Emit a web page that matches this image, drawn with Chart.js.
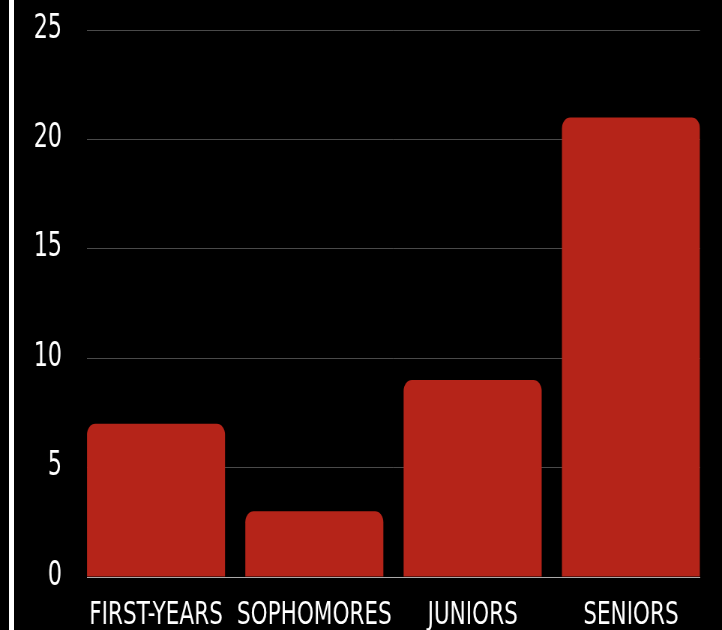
<!DOCTYPE html>
<html>
<head>
<meta charset="utf-8">
<script src="https://cdn.jsdelivr.net/npm/chart.js@4"></script>
<style>
  html, body { margin: 0; padding: 0; background: #000; }
  #wrap { position: relative; width: 722px; height: 630px; overflow: hidden; }
  #edge { position: absolute; left: 9px; top: 0; width: 5px; height: 630px; background: #fff; z-index: 2; }
  /* canvas drawn wider and squeezed to 722px so the labels come out condensed */
  #myChart { position: absolute; left: 0; top: 0; transform: scaleX(0.7497); transform-origin: 0 0; }
</style>
</head>
<body>
<div id="wrap">
  <div id="edge"></div>
  <canvas id="myChart" width="963" height="630"></canvas>
</div>
<script>
const categories = ['FIRST-YEARS', 'SOPHOMORES', 'JUNIORS', 'SENIORS'];
const students = [7, 3, 9, 21];
const yTicks = [0, 5, 10, 15, 20, 25];

const SX = 963 / 722; // horizontal squeeze factor
const FONT = '"DejaVu Sans Condensed", "DejaVu Sans", sans-serif';

const ctx = document.getElementById('myChart').getContext('2d');
new Chart(ctx, {
    type: 'bar',
    data: {
        datasets: [{
            data: students.map((v, i) => ({ x: i, y: v })),
            backgroundColor: '#b52419',
            borderRadius: 11,
            borderSkipped: 'start',
            barPercentage: 0.872,
            categoryPercentage: 1
        }]
    },
    options: {
        responsive: false,
        animation: false,
        layout: { padding: { top: 30, right: 22 * SX, left: 0, bottom: 0 } },
        plugins: { legend: { display: false }, tooltip: { enabled: false } },
        scales: {
            x: {
                type: 'linear',
                offset: false,
                min: -0.436,
                max: 3.436,
                grid: { display: false },
                border: { display: true, color: '#aaaaaa', width: 1 },
                ticks: {
                    stepSize: 1,
                    includeBounds: false,
                    autoSkip: false,
                    maxRotation: 0,
                    padding: 11,
                    color: '#ffffff',
                    font: { family: FONT, size: 32 },
                    callback: v => Number.isInteger(v) && categories[v] !== undefined ? categories[v] : ''
                },
                afterFit: axis => {
                    axis.height = 53;
                    axis.paddingLeft = 0;
                    axis.paddingRight = 0;
                }
            },
            y: {
                min: 0,
                max: 25,
                afterBuildTicks: axis => { axis.ticks = yTicks.map(v => ({ value: v })); },
                grid: { color: '#4a4a4a', lineWidth: 1, drawTicks: false },
                border: { display: false },
                ticks: {
                    padding: 25 * SX,
                    labelOffset: -1,
                    color: '#ffffff',
                    font: { family: FONT, size: 33 }
                },
                afterFit: axis => {
                    axis.width = 87 * SX;
                    axis.paddingTop = 0;
                    axis.paddingBottom = 0;
                }
            }
        }
    }
});
</script>
</body>
</html>
